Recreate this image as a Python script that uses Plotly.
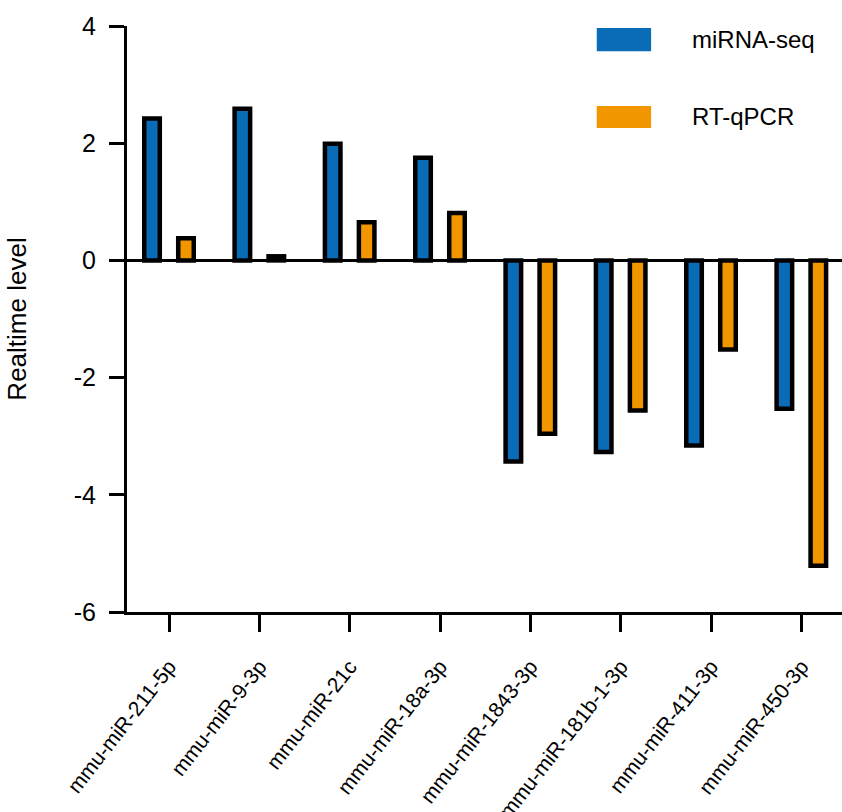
import plotly.graph_objects as go

categories = ["mmu-miR-211-5p", "mmu-miR-9-3p", "mmu-miR-21c", "mmu-miR-18a-3p",
              "mmu-miR-1843-3p", "mmu-miR-181b-1-3p", "mmu-miR-411-3p", "mmu-miR-450-3p"]
series_names = ["miRNA-seq", "RT-qPCR"]
mirna_seq = [2.42, 2.59, 1.99, 1.75, -3.43, -3.27, -3.16, -2.53]
rt_qpcr = [0.38, 0.07, 0.65, 0.81, -2.96, -2.56, -1.52, -5.21]
y_ticks = [-6, -4, -2, 0, 2, 4]

BLUE = "#0A6CB6"
ORANGE = "#F29600"
FONT = "Liberation Sans, Arial, sans-serif"

bar_w = 0.172
half_gap = 0.188

fig = go.Figure()
fig.add_trace(go.Bar(
    x=categories, y=mirna_seq, name=series_names[0],
    width=bar_w, offset=-half_gap - bar_w / 2,
    marker=dict(color=BLUE, line=dict(color="black", width=4.5)),
    showlegend=False,
))
fig.add_trace(go.Bar(
    x=categories, y=rt_qpcr, name=series_names[1],
    width=bar_w, offset=half_gap - bar_w / 2,
    marker=dict(color=ORANGE, line=dict(color="black", width=4.5)),
    showlegend=False,
))

# legend drawn as shapes + text (large swatches as in the reference)
legend_items = [(series_names[0], BLUE, 0.9966, 0.957), (series_names[1], ORANGE, 0.8635, 0.826)]
for name, col, ytop, ybot in legend_items:
    fig.add_shape(type="rect", xref="paper", yref="paper",
                  x0=0.657, x1=0.733, y0=ybot, y1=ytop,
                  fillcolor=col, line=dict(width=0))
    fig.add_annotation(xref="paper", yref="paper", x=0.787, y=(ytop + ybot) / 2,
                       text=name, showarrow=False, xanchor="left", yanchor="middle",
                       font=dict(family=FONT, size=24, color="black"))

fig.update_layout(
    template="none",
    width=842, height=812,
    margin=dict(l=127, r=0, t=26, b=200, autoexpand=False),
    paper_bgcolor="white", plot_bgcolor="white",
    barmode="overlay",
    font=dict(family=FONT, color="black"),
)
fig.update_xaxes(
    automargin=False,
    range=[-0.465, 7.45],
    showline=True, linecolor="black", linewidth=3,
    ticks="outside", ticklen=17, tickwidth=3, tickcolor="black",
    tickangle=-52, tickfont=dict(family=FONT, size=21, color="black"),
    ticklabelstandoff=14,
    showgrid=False, zeroline=False,
)
fig.update_yaxes(
    automargin=False,
    range=[-6, 4], tickvals=y_ticks, ticktext=[str(v) for v in y_ticks],
    showline=True, linecolor="black", linewidth=3,
    ticks="outside", ticklen=15, tickwidth=3, tickcolor="black",
    tickfont=dict(family=FONT, size=25, color="black"),
    ticklabelstandoff=8,
    showgrid=False,
    zeroline=True, zerolinecolor="black", zerolinewidth=3,
    title=dict(text="Realtime level", font=dict(family=FONT, size=26, color="black"), standoff=40),
)

fig.write_html(
    "out.html",
    config={"displayModeBar": False},
    post_script="document.body.style.margin='0';document.body.style.overflow='hidden';",
)
